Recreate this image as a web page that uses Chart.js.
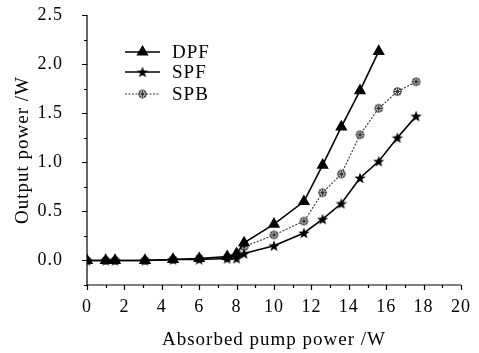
<!DOCTYPE html>
<html>
<head>
<meta charset="utf-8">
<script src="https://cdn.jsdelivr.net/npm/chart.js@4/dist/chart.umd.min.js"></script>
<style>
html,body{margin:0;padding:0;background:#fff;}
#wrap{width:479px;height:353px;position:relative;}
</style>
</head>
<body>
<div id="wrap"><canvas id="c" width="479" height="353"></canvas></div>
<script>
// ---- data ----
const pumpPower = [0, 1.0, 1.5, 3.1, 4.6, 6.0, 7.5, 8.0, 8.4, 10.0, 11.6, 12.6, 13.6, 14.6, 15.6, 16.6, 17.6];
const dpfValues = [0, 0, 0, 0, 0.01, 0.02, 0.04, 0.07, 0.18, 0.37, 0.60, 0.97, 1.36, 1.73, 2.13, null, null];
const spfValues = [0, 0, 0, 0, 0.01, 0.01, 0.02, 0.02, 0.07, 0.15, 0.28, 0.42, 0.58, 0.84, 1.01, 1.25, 1.47];
const spbValues = [0, 0, 0, 0, 0.01, 0.02, 0.03, 0.05, 0.14, 0.26, 0.40, 0.69, 0.88, 1.28, 1.55, 1.72, 1.82];
const seriesNames = ['DPF', 'SPF', 'SPB'];
const xTickValues = [0, 2, 4, 6, 8, 10, 12, 14, 16, 18, 20];
const xTickLabels = ['0', '2', '4', '6', '8', '10', '12', '14', '16', '18', '20'];
const yTickValues = [0, 0.5, 1.0, 1.5, 2.0, 2.5];
const yTickLabels = ['0.0', '0.5', '1.0', '1.5', '2.0', '2.5'];
const xTitle = 'Absorbed pump power /W';
const yTitle = 'Output power /W';

function toPoints(vals) {
  const out = [];
  vals.forEach((v, i) => { if (v !== null) out.push({x: pumpPower[i], y: v}); });
  return out;
}

// ---- marker images ----
function starMarker() {
  const c = document.createElement('canvas');
  c.width = 14; c.height = 14;
  const g = c.getContext('2d');
  g.fillStyle = '#000';
  g.beginPath();
  for (let i = 0; i < 10; i++) {
    const r = i % 2 === 0 ? 6 : 2.4;
    const a = -Math.PI / 2 + i * Math.PI / 5;
    const px = 7 + r * Math.cos(a), py = 7.5 + r * Math.sin(a);
    if (i === 0) g.moveTo(px, py); else g.lineTo(px, py);
  }
  g.closePath();
  g.fill();
  return c;
}
function spbMarker() {
  const c = document.createElement('canvas');
  c.width = 11; c.height = 11;
  const g = c.getContext('2d');
  g.fillStyle = '#fff';
  g.strokeStyle = '#222';
  g.lineWidth = 1;
  g.beginPath(); g.arc(5.5, 5.5, 3.8, 0, Math.PI * 2); g.fill(); g.stroke();
  g.lineWidth = 0.9;
  g.beginPath();
  g.moveTo(5.5, 1.7); g.lineTo(5.5, 9.3);
  g.moveTo(1.7, 5.5); g.lineTo(9.3, 5.5);
  g.moveTo(2.8, 2.8); g.lineTo(8.2, 8.2);
  g.moveTo(8.2, 2.8); g.lineTo(2.8, 8.2);
  g.stroke();
  return c;
}
const starImg = starMarker();
const spbImg = spbMarker();

const FONT = 'Liberation Serif';

// ---- plugins ----
const textSpacing = {
  id: 'textSpacing',
  beforeInit(chart) { chart.ctx.letterSpacing = '1px'; },
  beforeUpdate(chart) { chart.ctx.letterSpacing = '1px'; },
  beforeDraw(chart) { chart.ctx.letterSpacing = '1px'; }
};

const axisTicks = {
  id: 'axisTicks',
  afterDraw(chart) {
    const ctx = chart.ctx;
    const xs = chart.scales.x, ys = chart.scales.y;
    const a = chart.chartArea;
    ctx.save();
    ctx.strokeStyle = '#000';
    ctx.lineWidth = 1.2;
    ctx.beginPath();
    ctx.moveTo(a.left, ys.getPixelForValue(2.5));
    ctx.lineTo(a.left, ys.getPixelForValue(-0.25));
    ctx.moveTo(xs.getPixelForValue(0), a.bottom);
    ctx.lineTo(xs.getPixelForValue(20), a.bottom);
    for (let v = 0; v <= 20; v += 1) {
      const px = Math.round(xs.getPixelForValue(v)) + 0.5;
      const len = v % 2 === 0 ? 5 : 3;
      ctx.moveTo(px, a.bottom);
      ctx.lineTo(px, a.bottom + len);
    }
    for (let k = -1; k <= 10; k++) {
      const v = k * 0.25;
      const py = Math.round(ys.getPixelForValue(v)) + 0.5;
      const len = k % 2 === 0 ? 5 : 3;
      ctx.moveTo(a.left, py);
      ctx.lineTo(a.left - len, py);
    }
    ctx.stroke();
    ctx.restore();
  }
};

const innerLegend = {
  id: 'innerLegend',
  afterDatasetsDraw(chart) {
    const ctx = chart.ctx;
    const a = chart.chartArea;
    const x0 = a.left + 38, x1 = a.left + 73, xt = a.left + 85;
    const ys = [a.top + 37, a.top + 57, a.top + 79];
    ctx.save();
    chart.data.datasets.forEach((ds, i) => {
      const y = ys[i];
      ctx.strokeStyle = ds.borderColor;
      ctx.lineWidth = ds.borderWidth;
      ctx.setLineDash(ds.borderDash || []);
      ctx.beginPath();
      ctx.moveTo(x0, y); ctx.lineTo(x1, y);
      ctx.stroke();
      ctx.setLineDash([]);
      Chart.helpers.drawPoint(ctx, {
        pointStyle: ds.pointStyle, radius: ds.pointRadius, rotation: 0, borderWidth: 1
      }, (x0 + x1) / 2, y);
      ctx.fillStyle = '#000';
      ctx.font = '19px "' + FONT + '"';
      ctx.textBaseline = 'middle';
      ctx.textAlign = 'left';
      ctx.fillText(ds.label, xt, y + 1);
    });
    ctx.restore();
  }
};

new Chart(document.getElementById('c'), {
  type: 'line',
  data: {
    datasets: [
      {
        label: seriesNames[0], data: toPoints(dpfValues),
        borderColor: '#000', backgroundColor: '#000', borderWidth: 1.6,
        pointStyle: 'triangle', pointRadius: 5.5, pointBackgroundColor: '#000', pointBorderColor: '#000',
        tension: 0
      },
      {
        label: seriesNames[1], data: toPoints(spfValues),
        borderColor: '#000', backgroundColor: '#000', borderWidth: 1.6,
        pointStyle: starImg, pointRadius: 6,
        tension: 0
      },
      {
        label: seriesNames[2], data: toPoints(spbValues),
        borderColor: '#333', backgroundColor: '#333', borderWidth: 1.1, borderDash: [2, 1.5],
        pointStyle: spbImg, pointRadius: 5,
        tension: 0
      }
    ]
  },
  options: {
    responsive: false,
    animation: false,
    events: [],
    layout: { padding: { left: 0, right: 18, top: 15, bottom: 0 } },
    plugins: { legend: { display: false }, tooltip: { enabled: false } },
    scales: {
      x: {
        type: 'linear', min: 0, max: 20,
        border: { display: false },
        grid: { display: false, drawTicks: false },
        afterBuildTicks(s) { s.ticks = xTickValues.map(v => ({value: v})); },
        afterFit(s) { s.height = 68; s.paddingLeft = 0; s.paddingRight = 0; },
        ticks: {
          padding: 11, color: '#000', maxRotation: 0, autoSkip: false,
          font: { family: FONT, size: 18 },
          callback(v) { const i = xTickValues.indexOf(v); return i >= 0 ? xTickLabels[i] : ''; }
        },
        title: {
          display: true, text: xTitle, color: '#000',
          font: { family: FONT, size: 19 }, padding: { top: 0, bottom: 2 }
        }
      },
      y: {
        type: 'linear', min: -0.25, max: 2.5,
        border: { display: false },
        grid: { display: false, drawTicks: false },
        afterBuildTicks(s) { s.ticks = yTickValues.map(v => ({value: v})); },
        afterFit(s) { s.width = 87; s.paddingTop = 0; s.paddingBottom = 0; },
        ticks: {
          padding: 24, color: '#000', autoSkip: false,
          font: { family: FONT, size: 18 },
          callback(v) { const i = yTickValues.indexOf(v); return i >= 0 ? yTickLabels[i] : ''; }
        },
        title: {
          display: true, text: yTitle, color: '#000',
          font: { family: FONT, size: 19 }, padding: { top: 12, bottom: 0 }
        }
      }
    }
  },
  plugins: [textSpacing, axisTicks, innerLegend]
});
</script>
</body>
</html>
